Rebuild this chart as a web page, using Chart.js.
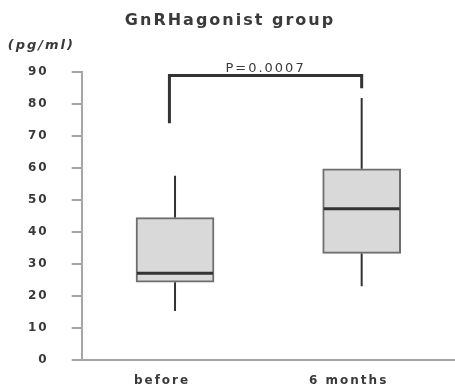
<!DOCTYPE html>
<html lang="en">
<head>
    <meta charset="UTF-8">
    <title>GnRHagonist group</title>
    <script src="https://cdn.jsdelivr.net/npm/chart.js"></script>
    <style>
        body { margin: 0; background: #fff; }
        #wrap { width: 455px; height: 390px; position: relative; }
    </style>
</head>
<body>

<div id="wrap"><canvas id="boxChart"></canvas></div>

<script>
    // values (pg/ml)
    const categories = ['before', '6 months'];
    const boxMin = [15.3, 23.0];
    const boxQ1 = [24.3, 33.3];
    const boxMedian = [27.1, 47.3];
    const boxQ3 = [44.5, 59.8];
    const boxMax = [57.6, 81.9];
    const yTicks = [0, 10, 20, 30, 40, 50, 60, 70, 80, 90];

    // significance bracket: category positions, then left end, top, right end values
    const bracketX = [-0.03, 1.0];
    const bracketY = [74, 89, 85];
    const pLabel = 'P=0.0007';
    const unitLabel = '(pg/ml)';

    const textColor = '#3a3a3a';
    const axisColor = '#a6a6a6';

    // the original text is set wide, so add some letter spacing
    const spacing = {
        id: 'spacing',
        beforeLayout(chart) { chart.ctx.letterSpacing = '2px'; },
        beforeDraw(chart) { chart.ctx.letterSpacing = '2px'; }
    };

    const boxExtras = {
        id: 'boxExtras',
        afterDatasetsDraw(chart) {
            const ctx = chart.ctx;
            const xs = chart.scales.x;
            const ys = chart.scales.y;
            const meta = chart.getDatasetMeta(0);
            ctx.save();
            ctx.strokeStyle = '#333';
            ctx.lineCap = 'butt';

            categories.forEach((c, i) => {
                const bar = meta.data[i];
                const cx = bar.x;
                const half = bar.width / 2;
                // whiskers
                ctx.lineWidth = 2;
                ctx.beginPath();
                ctx.moveTo(cx, ys.getPixelForValue(boxQ3[i]));
                ctx.lineTo(cx, ys.getPixelForValue(boxMax[i]));
                ctx.moveTo(cx, ys.getPixelForValue(boxQ1[i]));
                ctx.lineTo(cx, ys.getPixelForValue(boxMin[i]));
                ctx.stroke();
                // median
                ctx.lineWidth = 3;
                ctx.beginPath();
                ctx.moveTo(cx - half + 1, ys.getPixelForValue(boxMedian[i]));
                ctx.lineTo(cx + half - 1, ys.getPixelForValue(boxMedian[i]));
                ctx.stroke();
            });

            // bracket
            const x0 = xs.getPixelForValue(bracketX[0]);
            const x1 = xs.getPixelForValue(bracketX[1]);
            const yTop = ys.getPixelForValue(bracketY[1]);
            ctx.lineWidth = 3;
            ctx.lineJoin = 'miter';
            ctx.beginPath();
            ctx.moveTo(x0, ys.getPixelForValue(bracketY[0]));
            ctx.lineTo(x0, yTop);
            ctx.lineTo(x1, yTop);
            ctx.lineTo(x1, ys.getPixelForValue(bracketY[2]));
            ctx.stroke();

            // p value and unit
            ctx.letterSpacing = '2px';
            ctx.fillStyle = textColor;
            ctx.textBaseline = 'middle';
            ctx.textAlign = 'center';
            ctx.font = '13px "DejaVu Sans"';
            ctx.fillText(pLabel, (x0 + x1) / 2, yTop - 7);
            ctx.textAlign = 'left';
            ctx.font = 'italic bold 13px "DejaVu Sans"';
            ctx.fillText(unitLabel, chart.chartArea.left - 74, chart.chartArea.top - 27);
            ctx.restore();
        }
    };

    const ctx = document.getElementById('boxChart').getContext('2d');
    const boxChart = new Chart(ctx, {
        type: 'bar',
        data: {
            labels: categories,
            datasets: [{
                data: categories.map((c, i) => [boxQ1[i], boxQ3[i]]),
                backgroundColor: '#d9d9d9',
                borderColor: '#6e6e6e',
                borderWidth: 2,
                borderSkipped: false,
                barThickness: 78
            }]
        },
        options: {
            responsive: true,
            maintainAspectRatio: false,
            animation: false,
            // tick padding is counted twice in the axis size, hence the negative bottom
            layout: { padding: { left: 5, right: 0, top: 0, bottom: -16 } },
            plugins: {
                legend: { display: false },
                tooltip: { enabled: false },
                title: {
                    display: true,
                    text: 'GnRHagonist group',
                    color: textColor,
                    font: { family: 'DejaVu Sans', size: 16, weight: 'bold' },
                    padding: { top: 11, bottom: 42 }
                }
            },
            scales: {
                x: {
                    grid: { drawOnChartArea: false, drawTicks: false },
                    border: { color: axisColor, width: 2 },
                    ticks: {
                        color: textColor,
                        padding: 14,
                        labelOffset: -13,
                        font: { family: 'DejaVu Sans', size: 12, weight: 'bold' }
                    }
                },
                y: {
                    min: 0,
                    max: 90,
                    afterBuildTicks: (scale) => { scale.ticks = yTicks.map(v => ({ value: v })); },
                    grid: { drawOnChartArea: false, tickLength: 10, color: axisColor, lineWidth: 2 },
                    border: { color: axisColor, width: 2 },
                    ticks: {
                        color: textColor,
                        padding: 23,
                        font: { family: 'DejaVu Sans', size: 12, weight: 'bold' }
                    }
                }
            }
        },
        plugins: [spacing, boxExtras]
    });
</script>

</body>
</html>
